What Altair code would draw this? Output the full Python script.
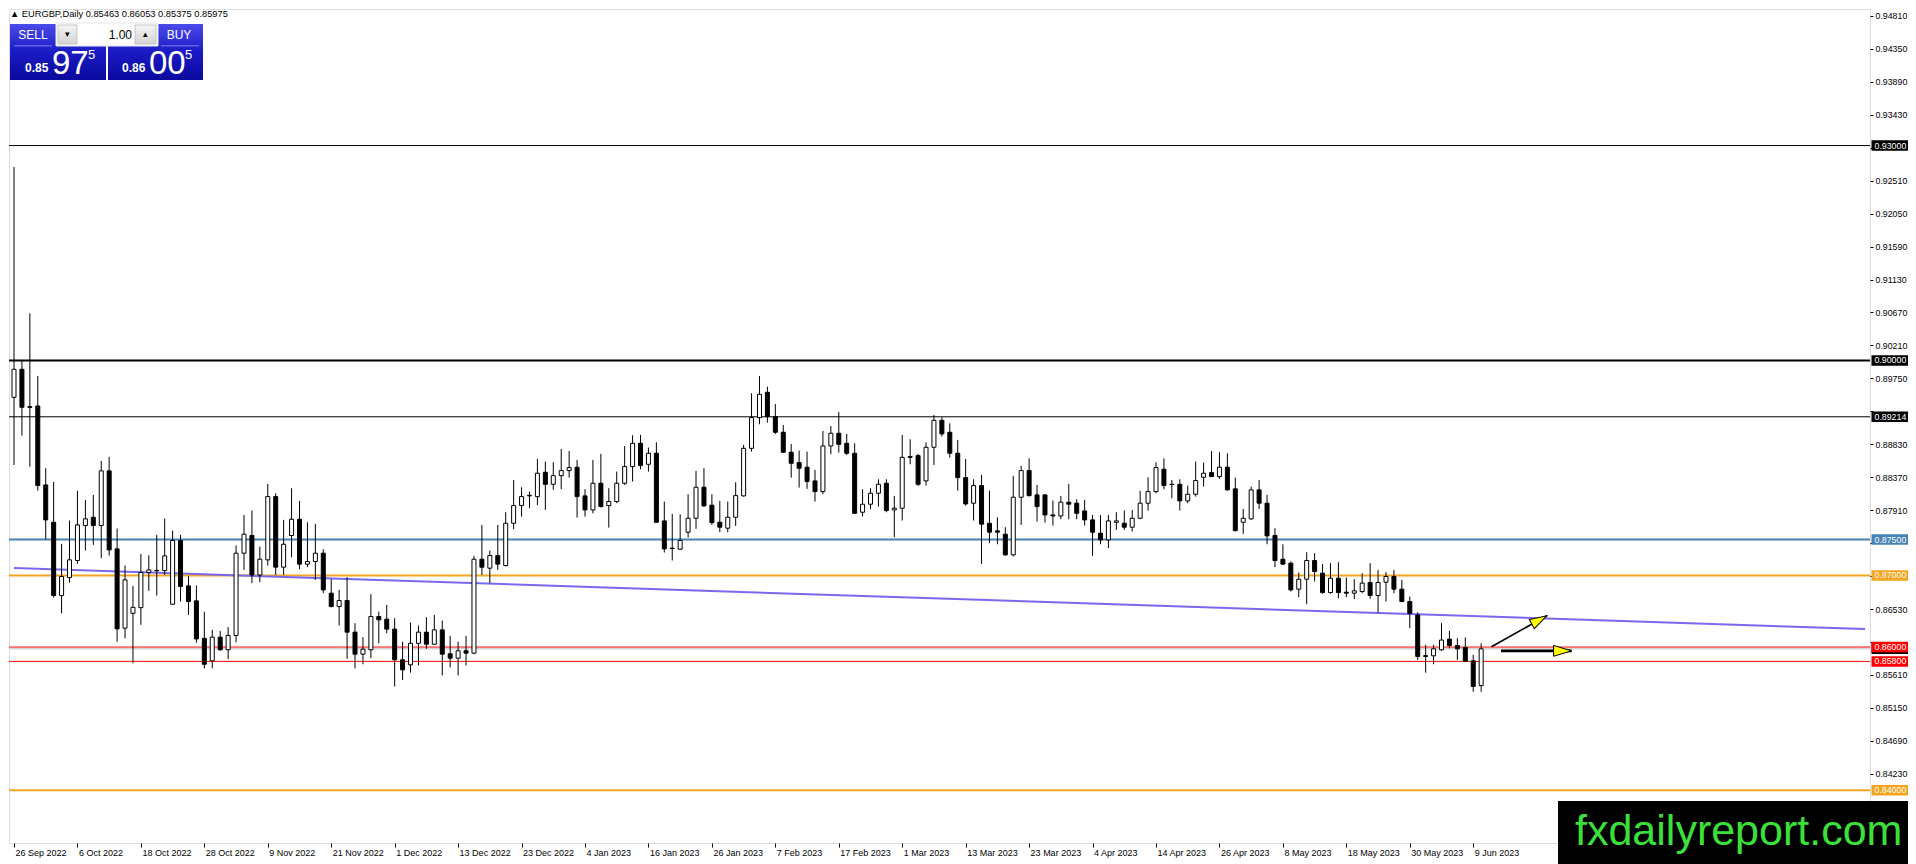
import altair as alt
import pandas as pd

# ---------------- data ----------------
SYMBOL = "EURGBP,Daily"

OPEN = [0.89486, 0.89877, 0.89355, 0.89365, 0.88263, 0.87742, 0.86719, 0.86970, 0.87208, 0.87696,
        0.87812, 0.87696, 0.88459, 0.87370, 0.86264, 0.86471, 0.86550, 0.87040, 0.87070, 0.87068,
        0.86598, 0.87487, 0.86854, 0.86645, 0.86122, 0.85808, 0.86138, 0.85962, 0.86162, 0.87310,
        0.87557, 0.87006, 0.87217, 0.88100, 0.87115, 0.87557, 0.87784, 0.87157, 0.87194, 0.87310,
        0.86752, 0.86565, 0.86650, 0.86208, 0.85901, 0.85962, 0.86426, 0.86389, 0.86250, 0.85822,
        0.85752, 0.86052, 0.86208, 0.86040, 0.86240, 0.85906, 0.85845, 0.85948, 0.85915, 0.87226,
        0.87101, 0.87277, 0.87138, 0.87728, 0.87975, 0.88110, 0.88100, 0.88440, 0.88272, 0.88393,
        0.88463, 0.88510, 0.88110, 0.87914, 0.88286, 0.87975, 0.88031, 0.88286, 0.88519, 0.88844,
        0.88551, 0.88705, 0.87761, 0.87380, 0.87366, 0.87603, 0.87798, 0.88231, 0.87980, 0.87742,
        0.87659, 0.87812, 0.88110, 0.88774, 0.89203, 0.89556, 0.89217, 0.88998, 0.88719, 0.88575,
        0.88510, 0.88319, 0.88170, 0.88807, 0.88984, 0.88844, 0.88705, 0.87882, 0.87994, 0.88147,
        0.88286, 0.87914, 0.87938, 0.88658, 0.88672, 0.88319, 0.88789, 0.89165, 0.88998, 0.88705,
        0.88365, 0.88008, 0.88254, 0.87728, 0.87622, 0.87575, 0.87287, 0.88091, 0.88463, 0.88124,
        0.88124, 0.87844, 0.87830, 0.88022, 0.88008, 0.87900, 0.87775, 0.87589, 0.87496, 0.87742,
        0.87728, 0.87673, 0.87798, 0.88008, 0.88170, 0.88482, 0.88272, 0.88272, 0.88040, 0.88133,
        0.88370, 0.88435, 0.88379, 0.88510, 0.88208, 0.87742, 0.87789, 0.88194, 0.88008, 0.87557,
        0.87226, 0.87171, 0.86808, 0.86947, 0.87208, 0.87031, 0.86761, 0.86961, 0.86766, 0.86752,
        0.86775, 0.86901, 0.86719, 0.86905, 0.86985, 0.86808, 0.86635, 0.86448, 0.85880, 0.85878,
        0.85962, 0.86110, 0.86022, 0.85994, 0.85808, 0.85463]
HIGH = [0.92701, 0.89993, 0.90658, 0.89784, 0.88496, 0.88305, 0.87440, 0.87766, 0.88180, 0.88054,
        0.88124, 0.88598, 0.88654, 0.87654, 0.87138, 0.86854, 0.87301, 0.87282, 0.87566, 0.87794,
        0.87626, 0.87566, 0.86992, 0.86859, 0.86494, 0.86240, 0.86226, 0.86278, 0.87417, 0.87844,
        0.87905, 0.87401, 0.88277, 0.88147, 0.87775, 0.88217, 0.88040, 0.87742, 0.87719, 0.87366,
        0.86947, 0.86798, 0.86975, 0.86333, 0.86138, 0.86738, 0.86494, 0.86587, 0.86403, 0.86075,
        0.86343, 0.86301, 0.86417, 0.86448, 0.86371, 0.86157, 0.86075, 0.86157, 0.87273, 0.87705,
        0.87347, 0.87705, 0.87882, 0.88332, 0.88231, 0.88170, 0.88626, 0.88589, 0.88580, 0.88765,
        0.88737, 0.88612, 0.88203, 0.88612, 0.88696, 0.88217, 0.88449, 0.88807, 0.88956, 0.88961,
        0.88784, 0.88858, 0.88031, 0.87858, 0.87854, 0.88133, 0.88459, 0.88496, 0.88133, 0.88040,
        0.88031, 0.88301, 0.88821, 0.89542, 0.89784, 0.89635, 0.89393, 0.89100, 0.88835, 0.88742,
        0.88728, 0.88473, 0.89016, 0.89086, 0.89282, 0.88975, 0.88844, 0.88203, 0.88217, 0.88342,
        0.88342, 0.88110, 0.88961, 0.88900, 0.88696, 0.88858, 0.89240, 0.89207, 0.89123, 0.88891,
        0.88626, 0.88342, 0.88403, 0.88184, 0.87812, 0.87673, 0.88389, 0.88528, 0.88635, 0.88263,
        0.88130, 0.88045, 0.88110, 0.88277, 0.88063, 0.88054, 0.87844, 0.87844, 0.87844, 0.87882,
        0.87905, 0.87914, 0.88180, 0.88370, 0.88580, 0.88635, 0.88332, 0.88342, 0.88254, 0.88589,
        0.88575, 0.88737, 0.88719, 0.88705, 0.88365, 0.87928, 0.88240, 0.88332, 0.88124, 0.87659,
        0.87435, 0.87194, 0.87040, 0.87324, 0.87310, 0.87161, 0.87171, 0.87185, 0.86971, 0.86947,
        0.87031, 0.87171, 0.87077, 0.87045, 0.87077, 0.86938, 0.86705, 0.86485, 0.86031, 0.86031,
        0.86333, 0.86226, 0.86124, 0.86134, 0.85892, 0.86053]
LOW = [0.88541, 0.88951, 0.88519, 0.88184, 0.87505, 0.86691, 0.86471, 0.86901, 0.87161, 0.87347,
       0.87426, 0.87240, 0.87277, 0.86075, 0.86122, 0.85773, 0.86310, 0.86785, 0.86719, 0.87006,
       0.86590, 0.86635, 0.86448, 0.86061, 0.85703, 0.85703, 0.85948, 0.85831, 0.86066, 0.87077,
       0.86892, 0.86905, 0.87138, 0.87006, 0.87006, 0.87254, 0.87087, 0.87115, 0.86938, 0.86752,
       0.86555, 0.86301, 0.85836, 0.85703, 0.85760, 0.85845, 0.86052, 0.86194, 0.85450, 0.85540,
       0.85643, 0.85743, 0.85976, 0.86031, 0.85603, 0.85717, 0.85603, 0.85743, 0.85901, 0.87006,
       0.86892, 0.87077, 0.87124, 0.87645, 0.87821, 0.87938, 0.87984, 0.87914, 0.88194, 0.88203,
       0.88365, 0.87808, 0.87821, 0.87867, 0.87947, 0.87668, 0.88008, 0.88263, 0.88310, 0.88482,
       0.88449, 0.87738, 0.87319, 0.87208, 0.87357, 0.87529, 0.87650, 0.87961, 0.87705, 0.87603,
       0.87603, 0.87691, 0.88100, 0.88728, 0.89110, 0.89133, 0.88975, 0.88714, 0.88365, 0.88226,
       0.88208, 0.88031, 0.88133, 0.88691, 0.88714, 0.88682, 0.87858, 0.87821, 0.87924, 0.87961,
       0.87882, 0.87533, 0.87766, 0.88551, 0.88249, 0.88254, 0.88542, 0.88938, 0.88644, 0.88184,
       0.87975, 0.87766, 0.87161, 0.87449, 0.87435, 0.87273, 0.87264, 0.87705, 0.88100, 0.87752,
       0.87738, 0.87696, 0.87784, 0.87784, 0.87784, 0.87696, 0.87273, 0.87435, 0.87380, 0.87636,
       0.87636, 0.87612, 0.87784, 0.87905, 0.88147, 0.88203, 0.88077, 0.87905, 0.88008, 0.88100,
       0.88240, 0.88379, 0.88347, 0.88184, 0.87612, 0.87580, 0.87775, 0.87928, 0.87435, 0.87115,
       0.87147, 0.86775, 0.86696, 0.86598, 0.86915, 0.86743, 0.86743, 0.86682, 0.86696, 0.86668,
       0.86752, 0.86673, 0.86480, 0.86635, 0.86752, 0.86626, 0.86264, 0.85822, 0.85643, 0.85760,
       0.85948, 0.85982, 0.85822, 0.85790, 0.85377, 0.85375]
CLOSE = [0.89877, 0.89347, 0.89345, 0.88254, 0.87775, 0.86719, 0.86985, 0.87217, 0.87705, 0.87789,
         0.87696, 0.88459, 0.87356, 0.86254, 0.86938, 0.86555, 0.87040, 0.87077, 0.87065, 0.87273,
         0.87487, 0.86845, 0.86635, 0.86113, 0.85760, 0.86138, 0.85962, 0.86162, 0.87310, 0.87575,
         0.87006, 0.87226, 0.88100, 0.87115, 0.87435, 0.87784, 0.87157, 0.87194, 0.87310, 0.86798,
         0.86565, 0.86650, 0.86208, 0.85901, 0.85971, 0.86426, 0.86380, 0.86250, 0.85822, 0.85682,
         0.86052, 0.86208, 0.86040, 0.86240, 0.85901, 0.85845, 0.85948, 0.85915, 0.87226, 0.87115,
         0.87277, 0.87157, 0.87728, 0.87975, 0.88100, 0.88118, 0.88426, 0.88272, 0.88393, 0.88463,
         0.88505, 0.88100, 0.87914, 0.88286, 0.87961, 0.88031, 0.88286, 0.88519, 0.88844, 0.88533,
         0.88705, 0.87742, 0.87370, 0.87375, 0.87487, 0.87798, 0.88231, 0.87970, 0.87738, 0.87673,
         0.87812, 0.88114, 0.88774, 0.89203, 0.89528, 0.89217, 0.88998, 0.88719, 0.88565, 0.88496,
         0.88310, 0.88170, 0.88807, 0.88984, 0.88830, 0.88705, 0.87867, 0.87994, 0.88147, 0.88272,
         0.87905, 0.87938, 0.88648, 0.88648, 0.88272, 0.88789, 0.89165, 0.88975, 0.88705, 0.88365,
         0.87998, 0.88254, 0.87715, 0.87603, 0.87603, 0.87287, 0.88091, 0.88463, 0.88114, 0.87961,
         0.87844, 0.87830, 0.88022, 0.87994, 0.87867, 0.87775, 0.87603, 0.87496, 0.87761, 0.87761,
         0.87673, 0.87798, 0.88008, 0.88170, 0.88505, 0.88254, 0.88268, 0.88040, 0.88133, 0.88324,
         0.88426, 0.88379, 0.88510, 0.88194, 0.87626, 0.87798, 0.88194, 0.88008, 0.87552, 0.87208,
         0.87157, 0.86798, 0.86947, 0.87208, 0.87054, 0.86761, 0.86961, 0.86761, 0.86752, 0.86785,
         0.86892, 0.86719, 0.86901, 0.86985, 0.86808, 0.86635, 0.86471, 0.85869, 0.85869, 0.85976,
         0.86098, 0.86022, 0.85976, 0.85799, 0.85450, 0.85975]

DATE_LABELS = ["26 Sep 2022", "6 Oct 2022", "18 Oct 2022", "28 Oct 2022", "9 Nov 2022",
               "21 Nov 2022", "1 Dec 2022", "13 Dec 2022", "23 Dec 2022", "4 Jan 2023",
               "16 Jan 2023", "26 Jan 2023", "7 Feb 2023", "17 Feb 2023", "1 Mar 2023",
               "13 Mar 2023", "23 Mar 2023", "4 Apr 2023", "14 Apr 2023", "26 Apr 2023",
               "8 May 2023", "18 May 2023", "30 May 2023", "9 Jun 2023"]
LABEL_STEP = 8

Y_TICKS = [0.84230, 0.84690, 0.85150, 0.85610, 0.86070, 0.86530, 0.86990, 0.87450,
           0.87910, 0.88370, 0.88830, 0.89290, 0.89750, 0.90210, 0.90670, 0.91130,
           0.91590, 0.92050, 0.92510, 0.92970, 0.93430, 0.93890, 0.94350, 0.94810]

LEVELS = [0.93000, 0.90000, 0.89214, 0.87500, 0.87000, 0.86000, 0.85800, 0.84000]
BID = 0.85975
ASK = 0.86005

TREND_X = [0, 233.4]
TREND_Y = [0.87103, 0.86252]

ARROW1_X = [186.3, 193.3]
ARROW1_Y = [0.86005, 0.86438]
ARROW2_X = [187.5, 196.4]
ARROW2_Y = [0.85947, 0.85947]

# ---------------- styles ----------------
LEVEL_COLORS = ["#000000", "#000000", "#000000", "#4682B4", "#F5A41E", "#FF0000", "#FF0000", "#F5A41E"]
LEVEL_WIDTHS = [1, 2, 1, 2, 2, 1, 1, 2]
FONT = "Liberation Sans"
W, H = 1861, 834
PAD_R = 38
X_DOMAIN = [0, 233.4]
Y_DOMAIN = [0.83265, 0.94906]

xs = alt.Scale(domain=X_DOMAIN, nice=False, zero=False)
ys = alt.Scale(domain=Y_DOMAIN, nice=False, zero=False)

label_expr = "[" + ",".join("'%s'" % s for s in DATE_LABELS) + "][round(datum.value/%d)]" % LABEL_STEP
hidden = " || ".join("abs(datum.value - %.5f) < 0.0009" % v for v in LEVELS + [BID])
y_label_expr = "(%s) ? '' : format(datum.value, '.5f')" % hidden

xaxis = alt.Axis(values=[k * LABEL_STEP for k in range(len(DATE_LABELS))], labelExpr=label_expr,
                 labelAlign="left", labelBaseline="top", labelFont=FONT, labelFontSize=9,
                 labelColor="black", labelPadding=1, labelOffset=1, tickSize=4, tickColor="black",
                 domain=False, grid=False, title=None, labelOverlap=False, labelFlush=False)
yaxis = alt.Axis(orient="right", values=Y_TICKS, labelExpr=y_label_expr, labelFont=FONT, labelFontSize=8.8,
                 labelColor="black", tickSize=3, tickColor="black", labelPadding=2,
                 domain=False, grid=False, title=None, labelOverlap=False, labelFlush=False)


def X(field):
    return alt.X(field, type="quantitative", scale=xs, axis=xaxis)


def Y(field):
    return alt.Y(field, type="quantitative", scale=ys, axis=yaxis)


candles = pd.DataFrame({"i": list(range(len(OPEN))), "o": OPEN, "h": HIGH, "l": LOW, "c": CLOSE})
DUMMY = pd.DataFrame({"a": [0]})

layers = []

# horizontal levels
for p, col, w in zip(LEVELS, LEVEL_COLORS, LEVEL_WIDTHS):
    layers.append(alt.Chart(pd.DataFrame({"p": [p]})).mark_rule(color=col, strokeWidth=w)
                  .encode(y=Y("p")))
# bid line
layers.append(alt.Chart(pd.DataFrame({"p": [BID]})).mark_rule(color="#C0C0C0", strokeWidth=1)
              .encode(y=Y("p")))
# trend line
layers.append(alt.Chart(pd.DataFrame({"x": TREND_X, "y": TREND_Y})).mark_line(color="#7B68EE", strokeWidth=2)
              .encode(x=X("x"), y=Y("y")))

# candles
layers.append(alt.Chart(candles).mark_rule(color="black", strokeWidth=1)
              .encode(x=X("i"), y=Y("l"), y2="h"))
layers.append(alt.Chart(candles).mark_bar(width=4, stroke="black", strokeWidth=1)
              .encode(x=X("i"), y=Y("o"), y2="c",
                      fill=alt.condition("datum.c >= datum.o", alt.value("white"), alt.value("black"))))

# arrows
HEAD = "M0,0L-2,-0.6L-2,0.6Z"
layers.append(alt.Chart(pd.DataFrame({"x": ARROW1_X, "y": ARROW1_Y})).mark_line(color="black", strokeWidth=1.7)
              .encode(x=X("x"), y=Y("y")))
layers.append(alt.Chart(pd.DataFrame({"x": ARROW1_X[1:], "y": ARROW1_Y[1:]}))
              .mark_point(shape=HEAD, size=300, filled=True, fill="#FFFF00", stroke="black",
                          strokeWidth=1, opacity=1, angle=331)
              .encode(x=X("x"), y=Y("y")))
layers.append(alt.Chart(pd.DataFrame({"x": ARROW2_X, "y": ARROW2_Y})).mark_line(color="black", strokeWidth=2.7)
              .encode(x=X("x"), y=Y("y")))
layers.append(alt.Chart(pd.DataFrame({"x": ARROW2_X[1:], "y": ARROW2_Y[1:]}))
              .mark_point(shape=HEAD, size=324, filled=True, fill="#FFFF00", stroke="black",
                          strokeWidth=1, opacity=1, angle=0)
              .encode(x=X("x"), y=Y("y")))

# price label boxes on right axis (bid first, then levels on top)
for p, col in [(BID, "#000000")] + list(zip(LEVELS, LEVEL_COLORS)):
    d = pd.DataFrame({"p": [p], "t": ["%.5f" % p]})
    layers.append(alt.Chart(d).mark_rule(strokeWidth=10.5, strokeCap="butt", color=col)
                  .encode(y=Y("p"), x=alt.value(W + 1.5), x2=alt.value(W + PAD_R)))
    layers.append(alt.Chart(d).mark_text(align="left", baseline="middle", font=FONT, fontSize=8.8, color="white")
                  .encode(y=Y("p"), x=alt.value(W + 4.5), text="t:N"))


def box(x1, x2, y1, y2, **kw):
    return alt.Chart(DUMMY).mark_rect(**kw).encode(x=alt.value(x1), x2=alt.value(x2),
                                                   y=alt.value(y1), y2=alt.value(y2))


def txt(x, y, s, **kw):
    base = dict(font=FONT, color="white", align="left", baseline="alphabetic")
    base.update(kw)
    return alt.Chart(DUMMY).mark_text(**base).encode(x=alt.value(x), y=alt.value(y), text=alt.value(s))


blue = alt.Gradient(gradient="linear",
                    stops=[alt.GradientStop(color="#4B4BEA", offset=0),
                           alt.GradientStop(color="#1A1AC4", offset=0.5),
                           alt.GradientStop(color="#0A0A9E", offset=1)],
                    x1=0, x2=0, y1=0, y2=1)
grey = alt.Gradient(gradient="linear",
                    stops=[alt.GradientStop(color="#F4F4F4", offset=0),
                           alt.GradientStop(color="#D4D4D4", offset=1)],
                    x1=0, x2=0, y1=0, y2=1)

# header
layers.append(txt(1, 8, "\u25B2 %s  %.5f %.5f %.5f %.5f" % (SYMBOL, OPEN[-1], HIGH[-1], LOW[-1], CLOSE[-1]),
                  color="black", fontSize=9.3))

# one-click panel
layers.append(box(1, 97, 15, 71, fill=blue))
layers.append(box(99, 194, 15, 71, fill=blue))
layers.append(box(47, 149, 14, 37, fill="white", stroke="#E6E6E6", strokeWidth=1))
layers.append(box(49, 68, 16, 35, fill=grey, stroke="#BDBDBD", strokeWidth=0.8))
layers.append(box(126, 147, 16, 35, fill=grey, stroke="#BDBDBD", strokeWidth=0.8))
layers.append(box(5, 43, 36.5, 37.3, fill="#9C9CF2"))
layers.append(box(152, 190, 36.5, 37.3, fill="#9C9CF2"))
layers.append(txt(24, 30, "SELL", align="center", fontSize=12))
layers.append(txt(170, 30, "BUY", align="center", fontSize=12))
layers.append(txt(58.5, 28, "\u25BE", align="center", color="black", fontSize=9))
layers.append(txt(136.5, 28, "\u25B4", align="center", color="black", fontSize=9))
layers.append(txt(123, 30, "1.00", align="right", color="black", fontSize=12))

sell_s = "%.5f" % BID
buy_s = "%.5f" % ASK
layers.append(txt(16, 63, sell_s[:4], fontSize=12, fontWeight="bold"))
layers.append(txt(43, 65, sell_s[4:6], fontSize=33))
layers.append(txt(79, 50, sell_s[6], fontSize=13))
layers.append(txt(113, 63, buy_s[:4], fontSize=12, fontWeight="bold"))
layers.append(txt(140, 65, buy_s[4:6], fontSize=33))
layers.append(txt(176, 50, buy_s[6], fontSize=13))

# watermark
layers.append(box(1549, W + PAD_R + 2, 792, 860, fill="black"))
layers.append(txt(1566, 836, "fxdailyreport.com", color="#3BE03B", fontSize=43))

chart = alt.layer(*layers).properties(
    width=W, height=H,
    autosize=alt.AutoSizeParams(type="none"),
    padding={"left": 1, "top": 1, "right": PAD_R, "bottom": 22},
).configure_view(stroke="black", strokeWidth=1.5, fill="white").configure(background="white")

chart.save("out.html", embed_options={"renderer": "svg", "actions": False})
